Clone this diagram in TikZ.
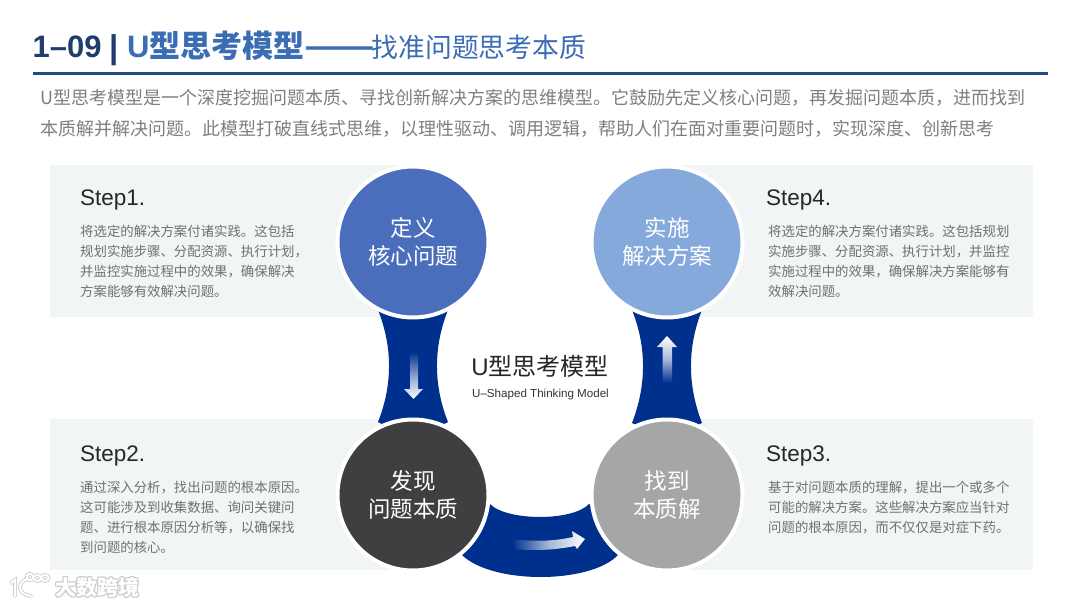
\documentclass[tikz,border=0pt]{standalone}
\usepackage{graphicx}
\usepackage{fontspec}
\setmainfont{Liberation Sans}
\newfontfamily\cjk{Noto Sans CJK SC}
\def\zc{\char"FF0C\relax}
\definecolor{navy}{HTML}{00308E}
\definecolor{panelbg}{HTML}{F2F5F6}
\definecolor{titledark}{HTML}{1F3E6E}
\definecolor{titleblue}{HTML}{3B6DB5}
\definecolor{ruleblue}{HTML}{1F4A83}
\definecolor{introgray}{HTML}{7F7F7F}
\definecolor{smallgray}{HTML}{707070}
\definecolor{cA}{HTML}{4A6EBB}
\definecolor{cB}{HTML}{3F3F41}
\definecolor{cC}{HTML}{A5A6A5}
\definecolor{cD}{HTML}{86A9DC}
\definecolor{wmgray}{HTML}{CECECE}
\tikzset{
  panel/.style={fill=panelbg,draw=none},
  bigcircle/.style={circle,minimum size=151pt,inner sep=0pt,draw=white,line width=4pt,text=white,align=center,font=\cjk\fontsize{22.5}{27.5}\selectfont},
  band/.style={fill=navy,draw=none},
  steptitle/.style={anchor=west,inner sep=0pt,font=\fontsize{22.5}{26}\selectfont,text=black!85},
  steptext/.style={anchor=north west,inner sep=0pt,align=left,text=smallgray,font=\cjk\fontsize{13.4}{20}\selectfont},
  wmtext/.style={inner sep=0pt,font=\cjk\bfseries\fontsize{21}{25}\selectfont},
  wmline/.style={line width=3.8pt,draw=wmgray,line cap=round},
  wmcore/.style={line width=2pt,draw=white,line cap=round}
}
\begin{document}
\begin{tikzpicture}[x=1pt,y=-1pt]
\useasboundingbox (0,0) rectangle (1080,607);
\fill[white] (0,0) rectangle (1080,607);
% title
\node[anchor=base west,inner sep=0pt,text=titledark,font=\bfseries\fontsize{31}{34}\selectfont] (tnum) at (32.5,58) {1–09};
\node[anchor=base west,inner sep=0pt,text=titledark,font=\bfseries\fontsize{33}{34}\selectfont] (tbar) at (109,58.5) {|};
\node[anchor=base west,inner sep=0pt,text=titleblue,font=\bfseries\fontsize{31}{34}\selectfont] (tu) at (127,58) {U\cjk 型思考模型\scalebox{1.33}[1]{——}};
\node[anchor=base west,inner sep=0pt,text=titleblue,font=\cjk\fontsize{26.8}{34}\selectfont] (tsub) at (371.5,57.5) {找准问题思考本质};
\coordinate (ruleL) at (33,74);
\coordinate (ruleR) at (1048,74);
\draw[ruleblue,line width=3pt] (ruleL) -- (ruleR);
% intro
\node[anchor=north west,inner sep=0pt,align=left,text=introgray,font=\cjk\fontsize{18}{31}\selectfont] (intro) at (40,89) {U型思考模型是一个深度挖掘问题本质、寻找创新解决方案的思维模型。它鼓励先定义核心问题\zc 再发掘问题本质\zc 进而找到\\本质解并解决问题。此模型打破直线式思维\zc 以理性驱动、调用逻辑\zc 帮助人们在面对重要问题时\zc 实现深度、创新思考};
% panels
\fill[panel] (50,165) rectangle (413,317);
\fill[panel] (667,165) rectangle (1033,317);
\fill[panel] (50,419) rectangle (413,570);
\fill[panel] (667,419) rectangle (1033,570);
% bands
\fill[band] (378,310) .. controls (392.7,347) and (392.7,385) .. (378,422) -- (413,440) -- (448,422) .. controls (433.3,385) and (433.3,347) .. (448,310) -- (413,290) -- cycle;
\fill[band] (632,310) .. controls (646.7,347) and (646.7,385) .. (632,423) -- (667,440) -- (702,423) .. controls (687.3,385) and (687.3,347) .. (702,310) -- (667,290) -- cycle;
\fill[band] (490,504) .. controls (507,521.3) and (573,521.3) .. (589,504) -- (640,530) -- (618,555) .. controls (590,584.5) and (490,584.5) .. (461,554) -- (440,530) -- cycle;
% band arrows
\shade[top color=navy,bottom color=white,middle color=navy!45!white] (410,352) -- (418,352) -- (418,389) -- (423,389) -- (413.5,399) -- (404,389) -- (410,389) -- cycle;
\shade[bottom color=navy,top color=white,middle color=navy!35!white] (667,336) -- (677,347) -- (672,347) -- (672,383) -- (662.5,383) -- (662.5,347) -- (657,347) -- cycle;
\shade[left color=navy,right color=white,middle color=navy!35!white] (512,539) .. controls (535,542) and (555,541) .. (573,537) -- (572,531) -- (585,539) -- (577,549) -- (575,546) .. controls (555,550) and (535,551) .. (515,549) -- cycle;
% circles
\node[bigcircle,fill=cA] (define) at (413,242) {定义\\核心问题};
\node[bigcircle,fill=cD] (implement) at (667,242) {实施\\解决方案};
\node[bigcircle,fill=cB] (discover) at (413,495) {发现\\问题本质};
\node[bigcircle,fill=cC] (solution) at (667,495) {找到\\本质解};
% centre
\node[inner sep=0pt,text=black!85,font=\cjk\fontsize{24}{28}\selectfont] (ctitle) at (540,366) {\fontspec{Liberation Sans}U\cjk 型思考模型};
\node[inner sep=0pt,text=black!80,font=\fontsize{11.6}{13}\selectfont] (csub) at (540.5,394.5) {U–Shaped Thinking Model};
% steps
\node[steptitle] (s1) at (80,200) {Step1.};
\node[steptext] (t1) at (80,225) {将选定的解决方案付诸实践。这包括\\规划实施步骤、分配资源、执行计划\zc\\并监控实施过程中的效果\zc 确保解决\\方案能够有效解决问题。};
\node[steptitle] (s4) at (766,200) {Step4.};
\node[steptext] (t4) at (768,225) {将选定的解决方案付诸实践。这包括规划\\实施步骤、分配资源、执行计划\zc 并监控\\实施过程中的效果\zc 确保解决方案能够有\\效解决问题。};
\node[steptitle] (s2) at (80,456) {Step2.};
\node[steptext] (t2) at (80,480.5) {通过深入分析\zc 找出问题的根本原因。\\这可能涉及到收集数据、询问关键问\\题、进行根本原因分析等\zc 以确保找\\到问题的核心。};
\node[steptitle] (s3) at (766,456) {Step3.};
\node[steptext] (t3) at (768,480.5) {基于对问题本质的理解\zc 提出一个或多个\\可能的解决方案。这些解决方案应当针对\\问题的根本原因\zc 而不仅仅是对症下药。};
% watermark
\foreach \dx/\dy in {-1/0,1/0,0/-1,0/1,-1/-1,1/1,-1/1,1/-1}{
  \node[wmtext,text=wmgray,anchor=west] at (55+\dx,587+\dy) {大数跨境};
}
\node[wmtext,text=white,anchor=west] (wm) at (55,587) {大数跨境};
\foreach \st in {wmline,wmcore}{
  \draw[\st] (11,583) -- (15,580) -- (15,596);
  \draw[\st] (27,579) .. controls (17,583) and (17,594) .. (31,596);
  \draw[\st] (30,577) circle (3.2pt);
  \draw[\st] (37.5,578) ellipse (3.6pt and 3pt);
  \draw[\st] (45,578) ellipse (3.6pt and 3pt);
}
\end{tikzpicture}
\end{document}
